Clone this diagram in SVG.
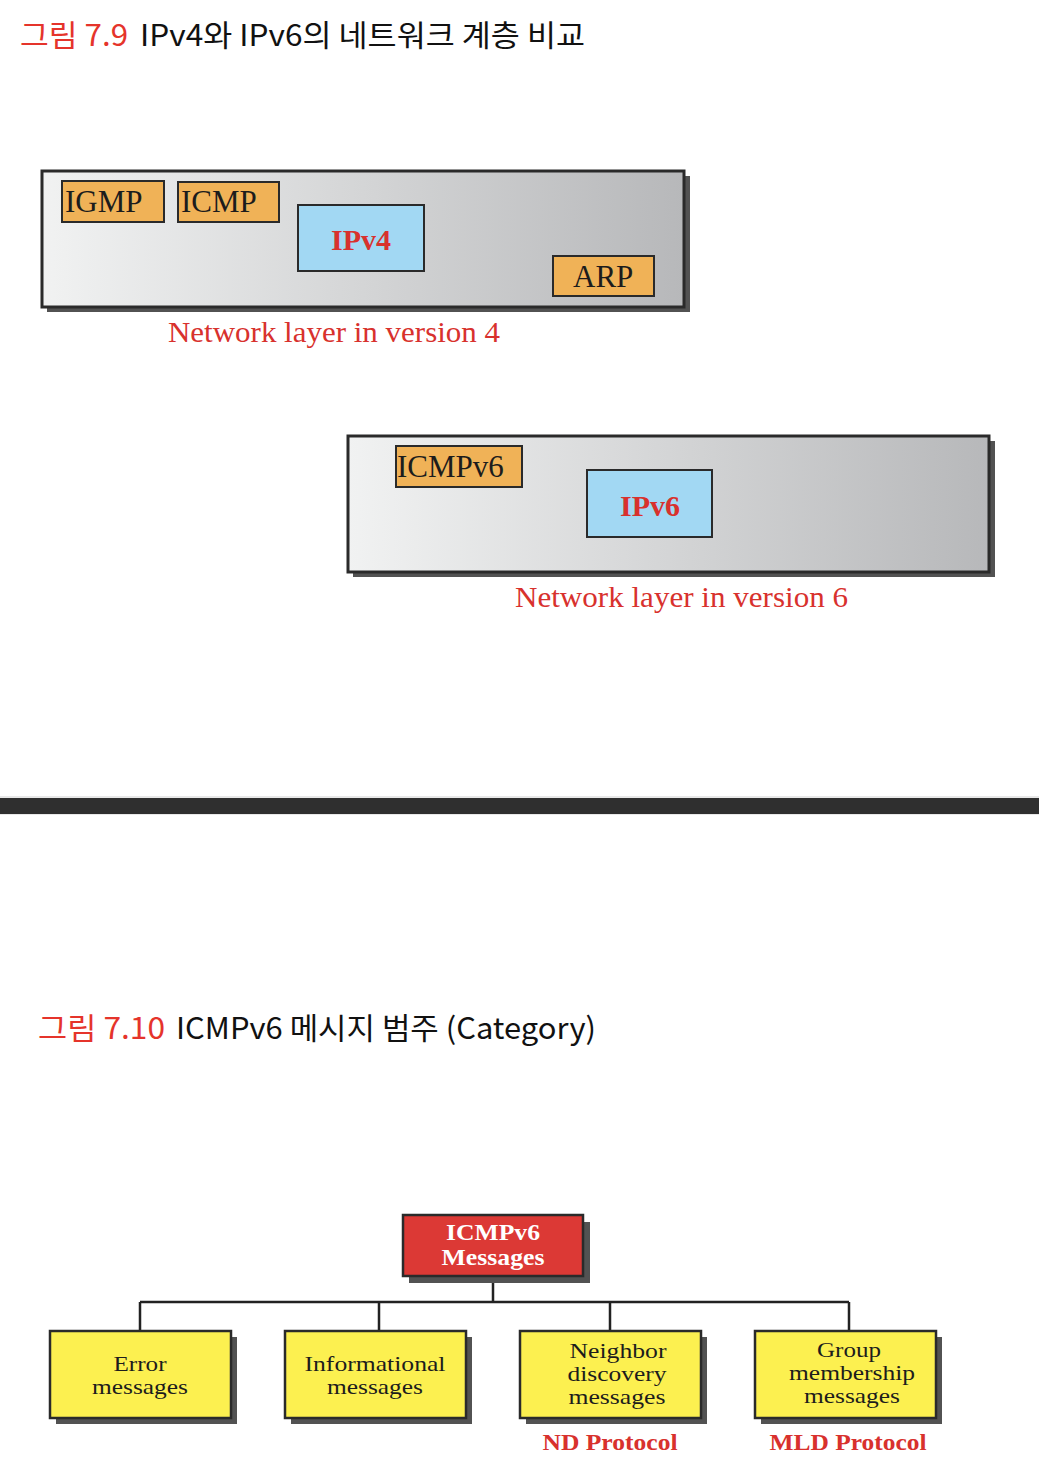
<svg xmlns="http://www.w3.org/2000/svg" width="1039" height="1484" viewBox="0 0 1039 1484">
<style>
.title{font-family:"Noto Sans CJK KR","Noto Sans",sans-serif;font-size:30px}
.red{fill:#e5342b}
.blk{fill:#111}
.layer{fill:url(#grad);stroke:#2a2a2a;stroke-width:3}
.shadow{fill:#525252}
.orange{fill:#f0b257;stroke:#2a2a2a;stroke-width:2}
.blue{fill:#a2d8f3;stroke:#2a2a2a;stroke-width:2}
.serif{font-family:"Liberation Serif","Times New Roman",serif}
.lbl{font-size:31px;fill:#1c1c1c}
.ip{font-size:30px;font-weight:bold;fill:#d8312d;text-anchor:middle}
.cap{font-size:30px;fill:#d8312d}
.yellow{fill:#fcf050;stroke:#2a2a2a;stroke-width:2.5}
.root{fill:#dc3935;stroke:#2a2a2a;stroke-width:2.5}
.ctext{font-size:22px;fill:#1c1c1c;text-anchor:middle}
.rtext{font-size:24px;font-weight:bold;fill:#fff;text-anchor:middle}
.proto{font-size:24px;font-weight:bold;fill:#d8312d;text-anchor:middle}
.conn{stroke:#222;stroke-width:2.5;fill:none}
</style>
<defs>
<linearGradient id="grad" x1="0" y1="0" x2="1" y2="0">
<stop offset="0" stop-color="#f1f2f2"/>
<stop offset="1" stop-color="#b7b8ba"/>
</linearGradient>
</defs>
<rect width="1039" height="1484" fill="#fff"/>

<text class="title" x="20" y="46"><tspan class="red" textLength="108" lengthAdjust="spacingAndGlyphs">그림 7.9</tspan><tspan class="blk" x="140" textLength="445" lengthAdjust="spacingAndGlyphs">IPv4와 IPv6의 네트워크 계층 비교</tspan></text>

<g id="v4-layer">
<rect class="shadow" x="47" y="176" width="643" height="136"/>
<rect class="layer" x="42" y="171" width="642" height="136"/>
</g>
<g id="igmp"><rect class="orange" x="62" y="181" width="102" height="41"/><text class="serif lbl" x="65" y="212">IGMP</text></g>
<g id="icmp"><rect class="orange" x="178" y="182" width="101" height="40"/><text class="serif lbl" x="181" y="212">ICMP</text></g>
<g id="ipv4"><rect class="blue" x="298" y="205" width="126" height="66"/><text class="serif ip" x="361" y="250">IPv4</text></g>
<g id="arp"><rect class="orange" x="553" y="256" width="101" height="40"/><text class="serif lbl" x="573" y="287">ARP</text></g>
<text class="serif cap" x="168" y="342" textLength="332" lengthAdjust="spacingAndGlyphs">Network layer in version 4</text>

<g id="v6-layer">
<rect class="shadow" x="353" y="441" width="642" height="136"/>
<rect class="layer" x="348" y="436" width="641" height="136"/>
</g>
<g id="icmpv6"><rect class="orange" x="396" y="446" width="126" height="41"/><text class="serif lbl" x="397" y="477">ICMPv6</text></g>
<g id="ipv6"><rect class="blue" x="587" y="470" width="125" height="67"/><text class="serif ip" x="650" y="516">IPv6</text></g>
<text class="serif cap" x="515" y="607" textLength="333" lengthAdjust="spacingAndGlyphs">Network layer in version 6</text>

<rect x="0" y="796" width="1039" height="19" fill="#e8e8e8"/>
<rect x="0" y="798" width="1039" height="16" fill="#2f2f2f"/>

<text class="title" x="38" y="1039"><tspan class="red" textLength="127" lengthAdjust="spacingAndGlyphs">그림 7.10</tspan><tspan class="blk" x="176" textLength="420" lengthAdjust="spacingAndGlyphs">ICMPv6 메시지 범주 (Category)</tspan></text>

<g id="connectors">
<path class="conn" d="M493 1277V1302M140 1302H849M140 1302V1331M379 1302V1331M610 1302V1331M849 1302V1331"/>
</g>

<g id="root">
<rect class="shadow" x="409" y="1222" width="181" height="61"/>
<rect class="root" x="403" y="1215" width="180" height="61"/>
<text class="serif rtext" x="493" y="1240" textLength="94" lengthAdjust="spacingAndGlyphs">ICMPv6</text>
<text class="serif rtext" x="493" y="1265" textLength="103" lengthAdjust="spacingAndGlyphs">Messages</text>
</g>

<g id="error">
<rect class="shadow" x="56" y="1337" width="181" height="87"/>
<rect class="yellow" x="50" y="1331" width="181" height="87"/>
<text class="serif ctext" x="140" y="1371" textLength="53" lengthAdjust="spacingAndGlyphs">Error</text>
<text class="serif ctext" x="140" y="1394" textLength="96" lengthAdjust="spacingAndGlyphs">messages</text>
</g>
<g id="informational">
<rect class="shadow" x="291" y="1337" width="181" height="87"/>
<rect class="yellow" x="285" y="1331" width="181" height="87"/>
<text class="serif ctext" x="375" y="1371" textLength="141" lengthAdjust="spacingAndGlyphs">Informational</text>
<text class="serif ctext" x="375" y="1394" textLength="96" lengthAdjust="spacingAndGlyphs">messages</text>
</g>
<g id="neighbor">
<rect class="shadow" x="526" y="1337" width="181" height="87"/>
<rect class="yellow" x="520" y="1331" width="181" height="87"/>
<text class="serif ctext" x="618" y="1358" textLength="97" lengthAdjust="spacingAndGlyphs">Neighbor</text>
<text class="serif ctext" x="617" y="1381" textLength="99" lengthAdjust="spacingAndGlyphs">discovery</text>
<text class="serif ctext" x="617" y="1404" textLength="97" lengthAdjust="spacingAndGlyphs">messages</text>
<text class="serif proto" x="610" y="1450" textLength="135" lengthAdjust="spacingAndGlyphs">ND Protocol</text>
</g>
<g id="group">
<rect class="shadow" x="761" y="1337" width="181" height="87"/>
<rect class="yellow" x="755" y="1331" width="181" height="87"/>
<text class="serif ctext" x="849" y="1357" textLength="64" lengthAdjust="spacingAndGlyphs">Group</text>
<text class="serif ctext" x="852" y="1380" textLength="126" lengthAdjust="spacingAndGlyphs">membership</text>
<text class="serif ctext" x="852" y="1403" textLength="96" lengthAdjust="spacingAndGlyphs">messages</text>
<text class="serif proto" x="848" y="1450" textLength="157" lengthAdjust="spacingAndGlyphs">MLD Protocol</text>
</g>
</svg>
